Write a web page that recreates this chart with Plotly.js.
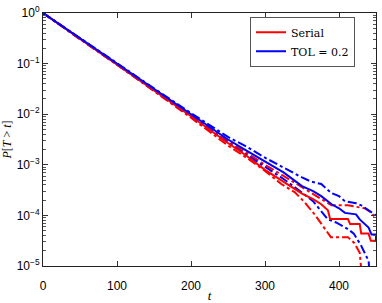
<!DOCTYPE html>
<html>
<head>
<meta charset="utf-8">
<script src="https://cdn.plot.ly/plotly-3.0.1.min.js"></script>
<style>html,body{margin:0;padding:0;background:#fff;}#chart{width:382px;height:303px;}</style>
</head>
<body>
<div id="chart"></div>
<script>
// Serial (red)
const tSerial = [0, 50, 100, 150, 200, 250, 275, 300, 325, 350, 365, 376, 385, 388, 412, 415, 428, 430, 440, 443, 450];
const pSerial = [1, 0.309, 0.0977, 0.0295, 0.00912, 0.00269, 0.00151, 0.000794, 0.000468, 0.000269, 0.000209, 0.000166, 0.000126, 0.0000851, 0.0000851, 0.0000676, 0.0000676, 0.0000437, 0.0000437, 0.0000316, 0.0000316];
const tSerialUp = [0, 50, 100, 150, 200, 250, 275, 300, 325, 350, 365, 380, 390, 412, 421, 435, 444, 450];
const pSerialUp = [1, 0.316, 0.1, 0.0309, 0.00977, 0.00302, 0.00174, 0.001, 0.000603, 0.000355, 0.000263, 0.000191, 0.000158, 0.000158, 0.000148, 0.000138, 0.000112, 0.0000871];
const tSerialLo = [0, 50, 100, 150, 200, 250, 275, 300, 322, 340, 353, 367, 380, 389, 412, 421, 428, 436];
const pSerialLo = [1, 0.302, 0.0955, 0.0282, 0.00851, 0.0024, 0.00138, 0.000759, 0.000417, 0.000288, 0.000186, 0.000105, 0.0000575, 0.0000372, 0.0000372, 0.0000282, 0.0000182, 0.000001];
// TOL = 0.2 (blue)
const tTol = [0, 50, 100, 150, 200, 250, 275, 300, 325, 350, 365, 376, 390, 400, 408, 423, 428, 440, 444, 450, 450];
const pTol = [1, 0.316, 0.1, 0.0309, 0.00977, 0.00316, 0.00191, 0.00117, 0.000708, 0.00038, 0.000302, 0.00024, 0.000166, 0.000138, 0.000112, 0.000105, 0.0000832, 0.0000575, 0.0000417, 0.0000417, 0.0000316];
const tTolUp = [0, 50, 100, 150, 200, 250, 275, 300, 325, 350, 362, 376, 390, 400, 408, 423, 430, 440, 450];
const pTolUp = [1, 0.324, 0.102, 0.0324, 0.0105, 0.00355, 0.00229, 0.00138, 0.000871, 0.000562, 0.000468, 0.000417, 0.000275, 0.00024, 0.000191, 0.000174, 0.000158, 0.000126, 0.0001];
const tTolLo = [0, 50, 100, 150, 200, 250, 275, 300, 325, 350, 365, 385, 396, 412, 420, 430, 440, 446];
const pTolLo = [1, 0.309, 0.0977, 0.0295, 0.00912, 0.00275, 0.00158, 0.000912, 0.000525, 0.000282, 0.000191, 0.0000832, 0.0000724, 0.0000537, 0.0000437, 0.0000251, 0.0000126, 0.000001];

const yTickVals = [1, 0.1, 0.01, 0.001, 0.0001, 0.00001];
const yTickText = ['10<sup>0</sup>', '10<sup>−1</sup>', '10<sup>−2</sup>', '10<sup>−3</sup>', '10<sup>−4</sup>', '10<sup>−5</sup>'];
const xTickVals = [0, 100, 200, 300, 400];

const RED = '#ff0000', BLUE = '#0000ff';
const traces = [
  {x: tSerialUp, y: pSerialUp, mode: 'lines', line: {color: RED, width: 2, dash: 'dashdot'}, showlegend: false},
  {x: tSerialLo, y: pSerialLo, mode: 'lines', line: {color: RED, width: 2, dash: 'dashdot'}, showlegend: false},
  {x: tTolUp, y: pTolUp, mode: 'lines', line: {color: BLUE, width: 2, dash: 'dashdot'}, showlegend: false},
  {x: tTolLo, y: pTolLo, mode: 'lines', line: {color: BLUE, width: 2, dash: 'dashdot'}, showlegend: false},
  {x: tSerial, y: pSerial, mode: 'lines', name: 'Serial', line: {color: RED, width: 2}},
  {x: tTol, y: pTol, mode: 'lines', name: 'TOL = 0.2', line: {color: BLUE, width: 2}}
];

const axisCommon = {
  showline: true, linecolor: '#222', linewidth: 1, mirror: 'ticks',
  ticks: 'inside', ticklen: 5, tickcolor: '#333', showgrid: false, zeroline: false,
  tickfont: {family: 'Liberation Sans, Arial, sans-serif', size: 12, color: '#000'}
};

const layout = {
  width: 382, height: 303,
  margin: {l: 43, r: 6, t: 13, b: 37},
  paper_bgcolor: '#fff', plot_bgcolor: '#fff',
  showlegend: true,
  legend: {
    x: 0.937, y: 0.985, xanchor: 'right', yanchor: 'top',
    bgcolor: '#fff', bordercolor: '#555', borderwidth: 1,
    font: {family: 'DejaVu Serif, Liberation Serif, serif', size: 11, color: '#000'},
    tracegroupgap: 0, itemwidth: 30
  },
  xaxis: Object.assign({}, axisCommon, {
    range: [0, 450], tickmode: 'array', tickvals: xTickVals, ticklabelstandoff: 9,
    title: {text: '<i>t</i>', font: {family: 'Liberation Serif, serif', size: 13, color: '#000'}, standoff: 0}
  }),
  yaxis: Object.assign({}, axisCommon, {
    type: 'log', range: [-5, 0], tickmode: 'array', tickvals: yTickVals, ticktext: yTickText,
    minor: {ticks: 'inside', ticklen: 3, tickcolor: '#555', dtick: 'D1', showgrid: false},
    title: {text: '<i>P</i>[<i>T</i> > <i>t</i>]', font: {family: 'Liberation Serif, serif', size: 12, color: '#000'}, standoff: 3}
  })
};

Plotly.newPlot('chart', traces, layout, {displayModeBar: false});
</script>
</body>
</html>
